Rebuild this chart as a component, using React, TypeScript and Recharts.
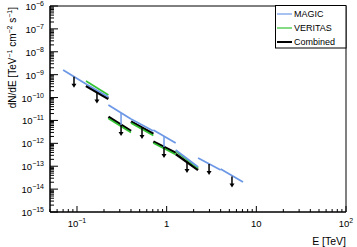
import React from 'react';
import { ComposedChart, Line, Scatter, XAxis, YAxis, ReferenceArea } from 'recharts';

// Energy bins [TeV]
const binLo = [0.07, 0.126, 0.224, 0.4, 0.71, 1.26, 2.24, 4.0];
const binHi = [0.126, 0.224, 0.4, 0.71, 1.26, 2.24, 4.0, 7.1];

// dN/dE at bin edges [TeV^-1 cm^-2 s^-1]; null = no fit in that bin
const magicLo = [1.6e-9, 3.91e-10, 4.73e-11, 1.16e-11, 3.83e-12, 5.12e-13, 2.29e-13, 7.57e-14];
const magicHi = [3.91e-10, 1.06e-10, 1.16e-11, 3.46e-12, 1.04e-12, 9.25e-14, 6.84e-14, 2.05e-14];
const veritasLo = [null, 5.29e-10, 1.22e-11, 7.74e-12, 1.04e-12, 4.62e-13, null, null];
const veritasHi = [null, 1.29e-10, 2.98e-12, 2.2e-12, 3.25e-13, 8.37e-14, null, null];
const combinedLo = [null, 3.2e-10, 1.42e-11, 8.81e-12, 1.18e-12, 3.42e-13, null, null];
const combinedHi = [null, 8.65e-11, 3.46e-12, 2.56e-12, 3.79e-13, 6.84e-14, null, null];

// upper-limit arrows (start point)
const arrowE = [0.0926, 0.167, 0.31, 0.531, 0.934, 1.686, 2.97, 5.35];
const arrowF = [8.15e-10, 1.66e-10, 6.32e-12, 4.68e-12, 6.92e-13, 1.53e-13, 1.25e-13, 3.56e-14];

// MAGIC -> combined connectors
const stemE = [0.31, 0.934];
const stemTop = [2.11e-11, 1.99e-12];
const stemBottom = [6.32e-12, 6.92e-13];

// axis labels
const xMajor = [0.1, 1, 10, 100];
const xMajorBase = ['10', '1', '10', '10'];
const xMajorExp = ['\u22121', '', '', '2'];
const yMajor = [1e-15, 1e-14, 1e-13, 1e-12, 1e-11, 1e-10, 1e-9, 1e-8, 1e-7, 1e-6];
const yMajorExp = ['\u221215', '\u221214', '\u221213', '\u221212', '\u221211', '\u221210', '\u22129', '\u22128', '\u22127', '\u22126'];

const BLUE = '#6d98e6';
const GREEN = '#33c433';
const BLACK = '#000000';
const FONT = '"Liberation Sans", Arial, Helvetica, sans-serif';

function logTicks(lo: number, hi: number): number[] {
  const out: number[] = [];
  for (let p = Math.floor(Math.log10(lo)); p < Math.ceil(Math.log10(hi)) + 1; p++) {
    for (let m = 1; m < 10; m++) {
      const v = m * Math.pow(10, p);
      if (v >= lo * 0.9999 && v <= hi * 1.0001) out.push(v);
    }
  }
  return out;
}
const xTicks = logTicks(0.05, 100);
const yTicks = logTicks(1e-15, 1e-6);

function majorIndex(list: number[], v: number) {
  return list.findIndex((m) => Math.abs(m - v) / m < 1e-6);
}

const XTick = ({ x, y, payload }: any) => {
  const i = majorIndex(xMajor, payload.value);
  const major = i >= 0;
  return (
    <g>
      <line x1={x} y1={y} x2={x} y2={y - (major ? 6 : 3)} stroke="#000" strokeWidth={1} />
      {major ? (
        <text x={x} y={y + 15} textAnchor="middle" fontSize={9.5} fontFamily={FONT} fill="#000">
          {xMajorBase[i]}
          {xMajorExp[i] ? (
            <tspan dy={-4} fontSize={7}>
              {xMajorExp[i]}
            </tspan>
          ) : null}
        </text>
      ) : null}
    </g>
  );
};

const YTick = ({ x, y, payload }: any) => {
  const i = majorIndex(yMajor, payload.value);
  const major = i >= 0;
  return (
    <g>
      <line x1={x} y1={y} x2={x + (major ? 8 : 4)} y2={y} stroke="#000" strokeWidth={1} />
      {major ? (
        <text x={x - 6} y={y + 4} textAnchor="end" fontSize={9.5} fontFamily={FONT} fill="#000">
          10
          <tspan dy={-4} fontSize={7}>
            {yMajorExp[i]}
          </tspan>
        </text>
      ) : null}
    </g>
  );
};

const ArrowShape = (props: any) => {
  const { cx, cy } = props;
  if (cx == null || cy == null) return null;
  const len = 11;
  return (
    <g>
      <line x1={cx} y1={cy} x2={cx} y2={cy + len - 3} stroke="#000" strokeWidth={1.5} />
      <polygon
        points={`${cx - 2.5},${cy + len - 4} ${cx + 2.5},${cy + len - 4} ${cx},${cy + len}`}
        fill="#000"
      />
    </g>
  );
};

type Seg = { key: string; data: { x: number; y: number }[]; color: string; width: number };

function segments(name: string, lo: (number | null)[], hi: (number | null)[], color: string, width: number): Seg[] {
  const out: Seg[] = [];
  lo.forEach((f1, i) => {
    const f2 = hi[i];
    if (f1 == null || f2 == null) return;
    out.push({
      key: `${name}-${i}`,
      data: [
        { x: binLo[i], y: f1 },
        { x: binHi[i], y: f2 },
      ],
      color,
      width,
    });
  });
  return out;
}

const segs: Seg[] = [
  ...segments('comb', combinedLo, combinedHi, BLACK, 2.6),
  ...segments('ver', veritasLo, veritasHi, GREEN, 1.6),
  ...segments('mag', magicLo, magicHi, BLUE, 1.8),
  ...stemE.map((e, i) => ({
    key: `stem-${i}`,
    data: [
      { x: e, y: stemTop[i] },
      { x: e, y: stemBottom[i] },
    ],
    color: BLUE,
    width: 1.5,
  })),
];

const arrowData = arrowE.map((e, i) => ({ x: e, y: arrowF[i] }));

const legendItems = [
  { label: 'MAGIC', color: BLUE, width: 1.2 },
  { label: 'VERITAS', color: GREEN, width: 1.2 },
  { label: 'Combined', color: BLACK, width: 2 },
];

export default function App() {
  return (
    <div style={{ position: 'absolute', left: 0, top: 0, width: 357, height: 247, background: '#fff' }}>
      <ComposedChart width={357} height={247} margin={{ top: 6, right: 11, bottom: 0, left: 0 }}>
        <XAxis
          dataKey="x"
          type="number"
          scale="log"
          domain={[0.05, 100]}
          allowDataOverflow
          ticks={xTicks}
          interval={0}
          tickSize={0}
          tickMargin={0}
          tickLine={false}
          tick={<XTick />}
          axisLine={{ stroke: '#000' }}
          height={35}
        />
        <YAxis
          dataKey="y"
          type="number"
          scale="log"
          domain={[1e-15, 1e-6]}
          allowDataOverflow
          ticks={yTicks}
          interval={0}
          tickSize={0}
          tickMargin={0}
          tickLine={false}
          tick={<YTick />}
          axisLine={{ stroke: '#000' }}
          width={50}
        />
        <ReferenceArea
          x1={0.05}
          x2={100}
          y1={1e-15}
          y2={1e-6}
          stroke="#000"
          strokeWidth={1}
          fill="none"
          fillOpacity={0}
          ifOverflow="visible"
        />
        {segs.map((s) => (
          <Line
            key={s.key}
            data={s.data}
            dataKey="y"
            type="linear"
            stroke={s.color}
            strokeWidth={s.width}
            dot={false}
            activeDot={false}
            isAnimationActive={false}
          />
        ))}
        <Scatter data={arrowData} dataKey="y" shape={<ArrowShape />} isAnimationActive={false} />
      </ComposedChart>
      <svg
        width={357}
        height={247}
        style={{ position: 'absolute', left: 0, top: 0, pointerEvents: 'none' }}
        fontFamily={FONT}
      >
        <text transform="rotate(-90)" x={-7} y={16} textAnchor="end" fontSize={10} fill="#000">
          dN/dE [TeV
          <tspan dy={-4} fontSize={7}>
            {'\u22121'}
          </tspan>
          <tspan dy={4}> cm</tspan>
          <tspan dy={-4} fontSize={7}>
            {'\u22122'}
          </tspan>
          <tspan dy={4}> s</tspan>
          <tspan dy={-4} fontSize={7}>
            {'\u22121'}
          </tspan>
          <tspan dy={4}>]</tspan>
        </text>
        <text x={346} y={245} textAnchor="end" fontSize={10.5} fill="#000">
          E [TeV]
        </text>
        <rect x={275.5} y={5.5} width={70.5} height={42.5} fill="#fff" stroke="#000" strokeWidth={1} />
        {legendItems.map((it, i) => (
          <g key={it.label}>
            <line x1={277} x2={292} y1={14 + i * 14} y2={14 + i * 14} stroke={it.color} strokeWidth={it.width} />
            <text x={294} y={17.3 + i * 14} fontSize={9} fill="#000">
              {it.label}
            </text>
          </g>
        ))}
      </svg>
    </div>
  );
}
